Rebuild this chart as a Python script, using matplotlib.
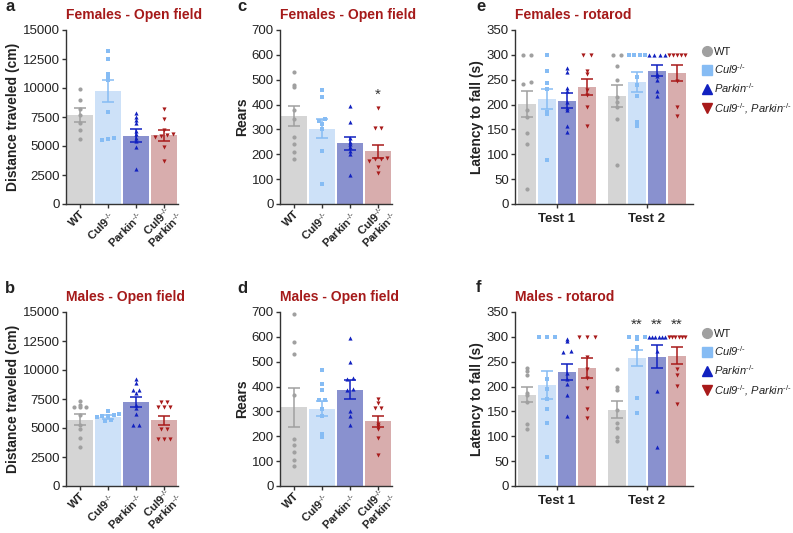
import matplotlib
matplotlib.use('Agg')
import matplotlib.pyplot as plt
import matplotlib.transforms as mtransforms
import numpy as np
from matplotlib.lines import Line2D

plt.rcParams['font.family'] = ['Liberation Sans', 'DejaVu Sans']
plt.rcParams['mathtext.fontset'] = 'custom'
plt.rcParams['mathtext.rm'] = 'Liberation Sans'
plt.rcParams['mathtext.it'] = 'Liberation Sans:italic'
plt.rcParams['mathtext.bf'] = 'Liberation Sans:bold'
plt.rcParams['mathtext.default'] = 'regular'

KO = r'$^{\text{-/-}}$'

# groups
group_labels = ['WT', 'Cul9' + KO, 'Parkin' + KO, 'Cul9' + KO + '\nParkin' + KO]
legend_labels = ['WT', 'Cul9' + KO, 'Parkin' + KO, 'Cul9' + KO + ', Parkin' + KO]
bar_colors = ['#d5d5d5', '#cde1f8', '#8991cf', '#d8adad']
dot_colors = ['#a0a0a0', '#86bcf4', '#1121c0', '#a81a1a']
markers = ['o', 's', '^', 'v']
title_color = '#a51a1a'

# a: females open field, distance (cm)
fem_dist_mean = [7700, 9750, 5900, 5920]
fem_dist_sem = [600, 935, 535, 460]
fem_dist_pts = [
    [9950, 9000, 8200, 7700, 7000, 6400, 5600],
    [13200, 12500, 11250, 11050, 10700, 7950, 5650, 5500, 5600],
    [7850, 7500, 7250, 6950, 6300, 6000, 5700, 5400, 4950, 3050],
    [8150, 7300, 6400, 5950, 5900, 6000, 5800, 4950, 3700],
]
# b: males open field, distance (cm)
male_dist_mean = [5730, 5950, 7200, 5660]
male_dist_sem = [490, 150, 430, 390]
male_dist_pts = [
    [7350, 7000, 6800, 6800, 6800, 6100, 5300, 4950, 4100, 3400],
    [6500, 6250, 6100, 6000, 6050, 5950, 5650, 5600],
    [9250, 8850, 8300, 8050, 8300, 7000, 6750, 6200, 5300, 5300],
    [7250, 7250, 6850, 6850, 6850, 4900, 4900, 4050, 4050, 4050],
]
# c: females open field, rears
fem_rear_mean = [354, 303, 244, 212]
fem_rear_sem = [40, 37, 27, 27]
fem_rear_pts = [
    [530, 480, 470, 380, 340, 270, 240, 210, 180],
    [460, 430, 340, 335, 320, 300, 215, 80],
    [395, 330, 265, 250, 240, 230, 215, 200, 115],
    [385, 305, 305, 185, 180, 180, 175, 150, 125],
]
# d: males open field, rears
male_rear_mean = [316, 310, 388, 260]
male_rear_sem = [78, 30, 37, 22]
male_rear_pts = [
    [690, 580, 530, 365, 190, 165, 135, 105, 80],
    [465, 410, 385, 345, 345, 310, 280, 210, 197],
    [595, 500, 435, 430, 390, 385, 300, 280, 245],
    [350, 335, 315, 315, 250, 240, 230, 195, 125],
]
# e: females rotarod, latency (s), test 1 / test 2
fem_rot_mean = [[201, 211, 208, 236], [217, 245, 268, 264]]
fem_rot_sem = [[27, 20, 15, 16], [22, 20, 11, 16]]
fem_rot_pts = [
    [[300, 300, 245, 242, 190, 175, 142, 121, 31],
     [300, 267, 243, 232, 186, 181, 89],
     [273, 265, 233, 228, 205, 194, 190, 156, 144],
     [300, 300, 268, 262, 230, 220, 196, 156]],
    [[300, 300, 278, 249, 215, 205, 195, 171, 79],
     [300, 300, 300, 300, 255, 240, 218, 165, 157],
     [300, 300, 300, 300, 262, 257, 250, 227, 217],
     [300, 300, 300, 300, 300, 248, 196, 178]],
]
# f: males rotarod, latency (s)
male_rot_mean = [[184, 204, 229, 237], [153, 258, 260, 262]]
male_rot_sem = [[16, 28, 16, 20], [17, 16, 23, 17]]
male_rot_pts = [
    [[237, 232, 223, 188, 184, 168, 124, 115],
     [300, 300, 300, 215, 195, 174, 155, 127, 58],
     [296, 291, 272, 270, 228, 215, 205, 184, 141],
     [300, 300, 300, 259, 236, 218, 198, 154, 137]],
    [[236, 199, 193, 152, 126, 116, 99, 90],
     [300, 300, 300, 295, 280, 276, 178, 146],
     [300, 300, 300, 300, 300, 300, 272, 191, 78],
     [300, 300, 300, 300, 300, 300, 235, 223, 201, 164]],
]
test_labels = ['Test 1', 'Test 2']


def spread(vals, tol, max_step, width=0.82):
    # simple column-scatter: points with close values are spread sideways
    vals = np.asarray(vals, float)
    order = np.argsort(vals)
    offs = np.zeros(len(vals))
    grp = [order[0]]
    groups = []
    for i in order[1:]:
        if vals[i] - vals[grp[-1]] <= tol:
            grp.append(i)
        else:
            groups.append(grp)
            grp = [i]
    groups.append(grp)
    for g in groups:
        n = len(g)
        step = min(max_step, width / max(n - 1, 1))
        for k, idx in enumerate(g):
            offs[idx] = (k - (n - 1) / 2) * step
    return offs


def style_axis(ax, ymax, ystep):
    ax.spines['top'].set_visible(False)
    ax.spines['right'].set_visible(False)
    for s in ('left', 'bottom'):
        ax.spines[s].set_color('#333333')
        ax.spines[s].set_linewidth(1.0)
    ax.set_ylim(0, ymax)
    ax.set_yticks(np.arange(0, ymax + 1, ystep))
    ax.tick_params(axis='both', colors='#333333', length=3, width=1)
    ax.tick_params(axis='y', labelsize=9.5, pad=1.5)
    for lab in ax.get_yticklabels():
        lab.set_color('#222222')


def draw_groups(ax, xs, means, sems, pts, tol, max_step):
    for i, x in enumerate(xs):
        ax.bar(x, means[i], width=0.9, color=bar_colors[i], zorder=1)
        off = spread(pts[i], tol, max_step)
        ax.scatter(x + off, pts[i], marker=markers[i], s=9, color=dot_colors[i],
                   linewidths=0, zorder=3)
        ax.errorbar(x, means[i], yerr=sems[i], fmt='none', ecolor=dot_colors[i],
                    elinewidth=1.1, capsize=4, capthick=1.1, zorder=4)


def open_field(ax, title, ylabel, means, sems, pts, ymax, ystep):
    xs = np.arange(4)
    draw_groups(ax, xs, means, sems, pts, ymax * 0.012, 0.22)
    ax.set_xlim(-0.5, 3.5)
    style_axis(ax, ymax, ystep)
    ax.set_xticks(xs)
    ax.tick_params(axis='x', pad=0.5)
    ax.set_xticklabels(group_labels[:3] + [''], rotation=45, ha='right',
                       rotation_mode='anchor', fontweight='bold', fontsize=8.2,
                       color='#222222')
    # two-line label of the double knockout, placed by hand next to its tick
    shift = mtransforms.ScaledTranslation(0.035, 0.035, fig.dpi_scale_trans)
    ax.text(xs[3], 0, group_labels[3], transform=ax.transData + shift, rotation=45,
            ha='right', va='top', rotation_mode='anchor', multialignment='center',
            fontweight='bold', fontsize=8.2, color='#222222', linespacing=0.9)
    ax.set_ylabel(ylabel, fontweight='bold', fontsize=10, color='#222222', labelpad=2)
    ax.set_title(title, loc='left', fontweight='bold', fontsize=10, color=title_color, pad=8)


def rotarod(ax, title, means, sems, pts):
    for t in range(2):
        xs = np.arange(4) + t * 4.5
        draw_groups(ax, xs, means[t], sems[t], pts[t], 3, 0.4)
    ax.set_xlim(-0.58, 8.3)
    style_axis(ax, 350, 50)
    ax.set_xticks([1.5, 6.0])
    ax.set_xticklabels(test_labels, fontweight='bold', fontsize=9.5, color='#222222')
    ax.set_ylabel('Latency to fall (s)', fontweight='bold', fontsize=10, color='#222222',
                  labelpad=2)
    ax.set_title(title, loc='left', fontweight='bold', fontsize=10, color=title_color, pad=8)
    handles = [Line2D([], [], marker=markers[i], color=dot_colors[i], linestyle='none',
                      markersize=7) for i in range(4)]
    leg = ax.legend(handles, legend_labels, loc='upper left', bbox_to_anchor=(1.015, 0.93),
                    frameon=False, fontsize=8, handletextpad=0.05, labelspacing=0.5,
                    handlelength=1.2, borderaxespad=0)
    for k, txt in enumerate(leg.get_texts()):
        txt.set_color('#222222')
        if k > 0:
            txt.set_fontstyle('italic')


fig = plt.figure(figsize=(7.93, 5.33), dpi=100)
W, H = 793, 533


def add_axes(left, top, right, bottom):
    return fig.add_axes([left / W, 1 - bottom / H, (right - left) / W, (bottom - top) / H])


ax_a = add_axes(66, 30, 178, 204)
ax_c = add_axes(280, 30, 392, 204)
ax_e = add_axes(515, 30, 693, 204)
ax_b = add_axes(66, 312, 178, 486)
ax_d = add_axes(280, 312, 392, 486)
ax_f = add_axes(515, 312, 693, 486)

open_field(ax_a, 'Females - Open field', 'Distance traveled (cm)',
           fem_dist_mean, fem_dist_sem, fem_dist_pts, 15000, 2500)
open_field(ax_b, 'Males - Open field', 'Distance traveled (cm)',
           male_dist_mean, male_dist_sem, male_dist_pts, 15000, 2500)
open_field(ax_c, 'Females - Open field', 'Rears',
           fem_rear_mean, fem_rear_sem, fem_rear_pts, 700, 100)
open_field(ax_d, 'Males - Open field', 'Rears',
           male_rear_mean, male_rear_sem, male_rear_pts, 700, 100)
rotarod(ax_e, 'Females - rotarod', fem_rot_mean, fem_rot_sem, fem_rot_pts)
rotarod(ax_f, 'Males - rotarod', male_rot_mean, male_rot_sem, male_rot_pts)

# significance marks
ax_c.text(3, 412, '*', ha='center', va='bottom', fontsize=11, color='#333333')
for x in [5.5, 6.5, 7.5]:
    ax_f.text(x, 310, '**', ha='center', va='bottom', fontsize=11, color='#333333')

# panel letters
for letter, x, y in [('a', 5, 11), ('c', 237, 11), ('e', 476, 11),
                     ('b', 5, 293), ('d', 237, 293), ('f', 476, 292)]:
    fig.text(x / W, 1 - y / H, letter, fontsize=12, fontweight='bold', color='#222222',
             va='baseline', ha='left')

fig.savefig('out.png', dpi=100)
